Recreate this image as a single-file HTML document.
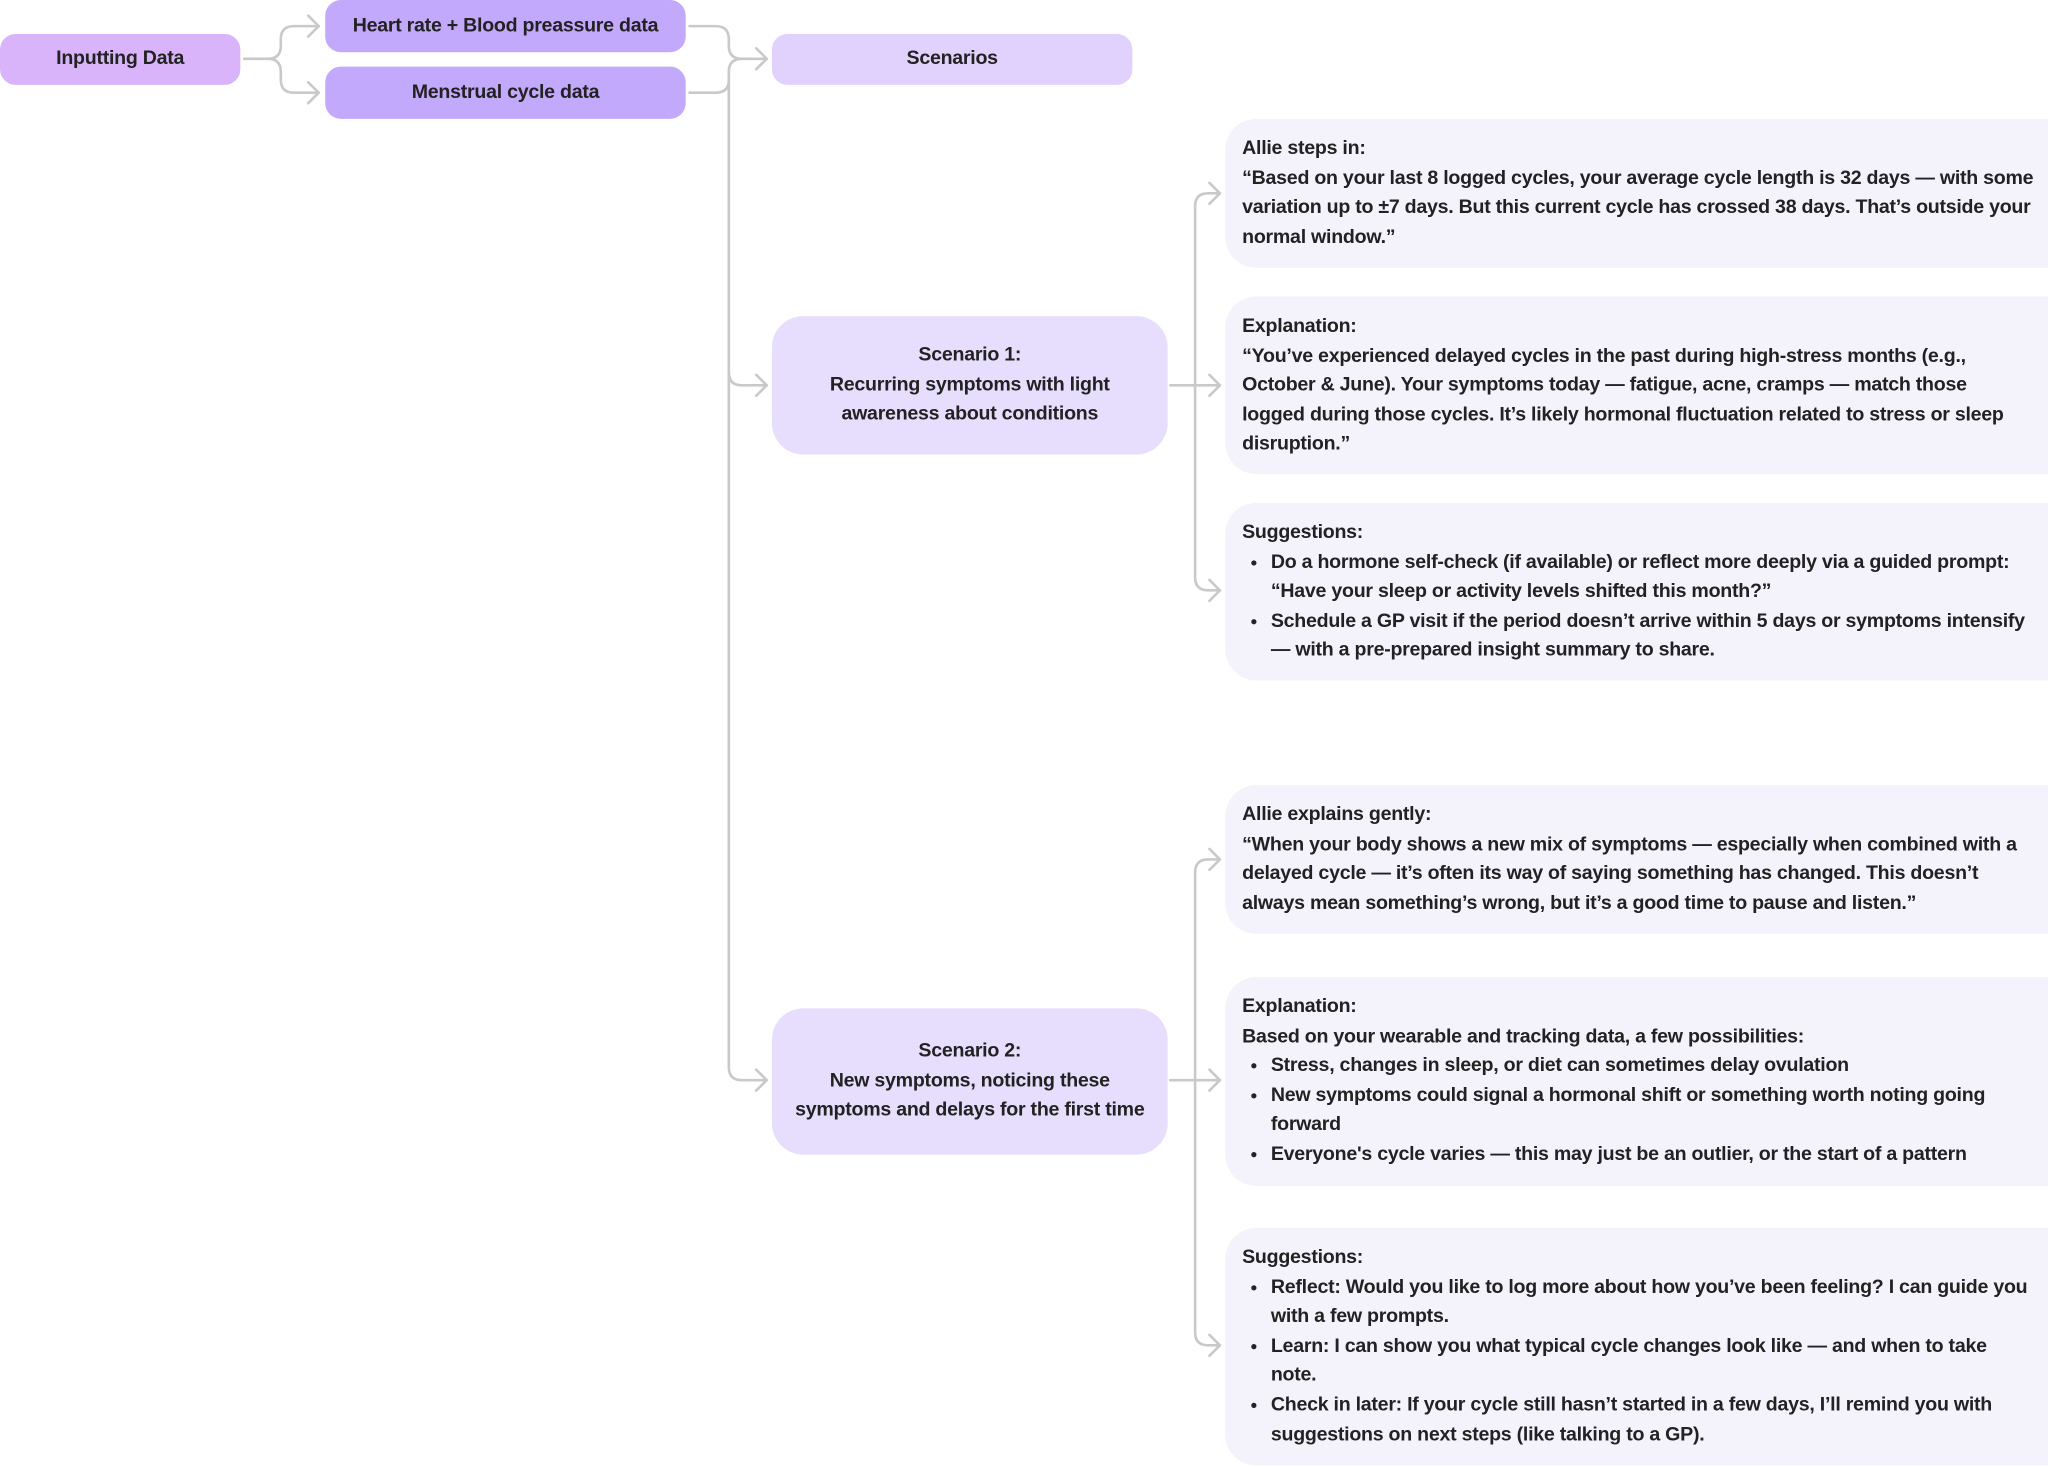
<!DOCTYPE html>
<html><head><meta charset="utf-8"><style>
html,body{margin:0;padding:0;background:#fff;width:2048px;height:1467px;overflow:hidden}
#w{position:absolute;left:0;top:0;width:1568px;height:1123px;transform:scale(1.30612);transform-origin:0 0;font-family:"Liberation Sans",sans-serif;font-weight:bold;color:#222;font-size:15px;letter-spacing:-0.2px}
.b{position:absolute;display:flex;align-items:center;justify-content:center;text-align:center;line-height:22.6px;box-sizing:border-box}
.c{position:absolute;left:938px;width:660px;background:#f4f3fc;border-radius:24px;padding:12px 13px;box-sizing:border-box;line-height:22.6px;white-space:nowrap}
.c ul{margin:0;padding:0 0 0 22px}
.c li{margin:0}
svg{position:absolute;left:0;top:0}
</style></head><body><div id="w">
<svg width="1568" height="1123" fill="none" stroke="#c9c9c9" stroke-width="2" stroke-linecap="round" stroke-linejoin="round">
<path d="M187 45 H205 Q215 45 215 35 V30 Q215 20 225 20 H244"/>
<path d="M205 45 Q215 45 215 55 V61 Q215 71 225 71 H244"/>
<path d="M236 12 L244 20 L236 28 M236 63 L244 71 L236 79"/>
<path d="M528 20 H548 Q558 20 558 30 V35 Q558 45 568 45 H587"/>
<path d="M528 71 H548 Q558 71 558 61 V55 Q558 45 568 45"/>
<path d="M558 55 V817 Q558 827 568 827 H587"/>
<path d="M558 285 Q558 295 568 295 H587"/>
<path d="M579 37 L587 45 L579 53 M579 287 L587 295 L579 303 M579 819 L587 827 L579 835"/>
<path d="M896 295 H934 M915 442 V158 Q915 148 925 148 H934 M915 442 Q915 452 925 452 H934"/>
<path d="M926 140 L934 148 L926 156 M926 287 L934 295 L926 303 M926 444 L934 452 L926 460"/>
<path d="M896 827 H934 M915 1020 V668 Q915 658 925 658 H934 M915 1020 Q915 1030 925 1030 H934"/>
<path d="M926 650 L934 658 L926 666 M926 819 L934 827 L926 835 M926 1022 L934 1030 L926 1038"/>
</svg>
<div class="b" style="left:0;top:26px;width:184px;height:39px;background:#d9b4fb;border-radius:12px">Inputting Data</div>
<div class="b" style="left:249px;top:0;width:276px;height:40px;background:#c2a9fb;border-radius:12px">Heart rate + Blood preassure data</div>
<div class="b" style="left:249px;top:51px;width:276px;height:40px;background:#c2a9fb;border-radius:12px">Menstrual cycle data</div>
<div class="b" style="left:591px;top:26px;width:276px;height:39px;background:#e0d2fc;border-radius:12px">Scenarios</div>
<div class="b" style="left:591px;top:242px;width:303px;height:106px;background:#e7ddfd;border-radius:24px">Scenario 1:<br>Recurring symptoms with light<br>awareness about conditions</div>
<div class="b" style="left:591px;top:772px;width:303px;height:112px;background:#e7ddfd;border-radius:24px">Scenario 2:<br>New symptoms, noticing these<br>symptoms and delays for the first time</div>

<div class="c" style="top:91px;height:114px">Allie steps in:<br>“Based on your last 8 logged cycles, your average cycle length is 32 days — with some<br>variation up to ±7 days. But this current cycle has crossed 38 days. That’s outside your<br>normal window.”</div>
<div class="c" style="top:227px;height:136px">Explanation:<br>“You’ve experienced delayed cycles in the past during high-stress months (e.g.,<br>October &amp; June). Your symptoms today — fatigue, acne, cramps — match those<br>logged during those cycles. It’s likely hormonal fluctuation related to stress or sleep<br>disruption.”</div>
<div class="c" style="top:385px;height:136px">Suggestions:<ul><li>Do a hormone self-check (if available) or reflect more deeply via a guided prompt:<br>“Have your sleep or activity levels shifted this month?”</li><li>Schedule a GP visit if the period doesn’t arrive within 5 days or symptoms intensify<br>— with a pre-prepared insight summary to share.</li></ul></div>
<div class="c" style="top:601px;height:114px">Allie explains gently:<br>“When your body shows a new mix of symptoms — especially when combined with a<br>delayed cycle — it’s often its way of saying something has changed. This doesn’t<br>always mean something’s wrong, but it’s a good time to pause and listen.”</div>
<div class="c" style="top:748px;height:160px">Explanation:<br>Based on your wearable and tracking data, a few possibilities:<ul><li>Stress, changes in sleep, or diet can sometimes delay ovulation</li><li>New symptoms could signal a hormonal shift or something worth noting going<br>forward</li><li>Everyone's cycle varies — this may just be an outlier, or the start of a pattern</li></ul></div>
<div class="c" style="top:940px;height:182px">Suggestions:<ul><li>Reflect: Would you like to log more about how you’ve been feeling? I can guide you<br>with a few prompts.</li><li>Learn: I can show you what typical cycle changes look like — and when to take<br>note.</li><li>Check in later: If your cycle still hasn’t started in a few days, I’ll remind you with<br>suggestions on next steps (like talking to a GP).</li></ul></div>
</div></body></html>
